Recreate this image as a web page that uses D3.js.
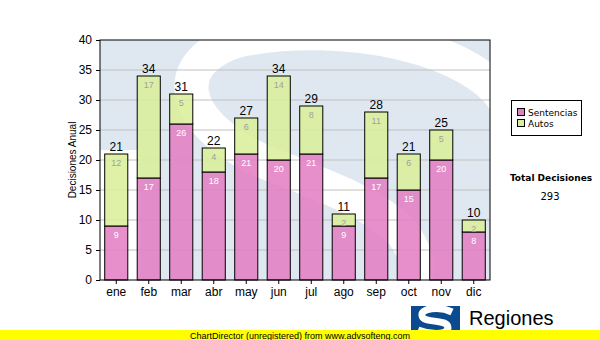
<!DOCTYPE html>
<html><head><meta charset="utf-8">
<script src="https://cdn.jsdelivr.net/npm/d3@7"></script>
<style>body{margin:0;background:#fff}svg{display:block;font-family:"Liberation Sans",Arial,sans-serif}</style>
</head><body>
<svg id="c" width="600" height="340"></svg>
<script>
const months = ["ene","feb","mar","abr","may","jun","jul","ago","sep","oct","nov","dic"];
const sentencias = [9,17,26,18,21,20,21,9,17,15,20,8];
const autos = [12,17,5,4,6,14,8,2,11,6,5,2];
const yTicks = [0,5,10,15,20,25,30,35,40];
const seriesNames = ["Sentencias","Autos"];
const totalLabel = "Total Decisiones";

const svg = d3.select("#c");
const L=100,R=490,T=40,B=280;
const x = d3.scaleBand().domain(months).range([L,R]).paddingInner(0.29).paddingOuter(0.145);
const y = d3.scaleLinear().domain([0,40]).range([B,T]);
const pink="#e27fc3", green="#daef9a";

// watermark background
const wm = svg.append("g");
wm.append("rect").attr("x",L).attr("y",T).attr("width",R-L).attr("height",B-T).attr("fill","#fff");
wm.append("rect").attr("x",L+40).attr("y",T).attr("width",R-L-40).attr("height",B-T).attr("fill","#dfe8f1");
wm.append("rect").attr("x",L).attr("y",T).attr("width",40).attr("height",110).attr("fill","#dfe8f1");
wm.append("path").attr("d","M 510,110 C 480,45 340,20 240,40 C 170,60 175,120 260,160 C 360,200 440,225 410,300")
  .attr("fill","none").attr("stroke","#fff").attr("stroke-width",34);
svg.append("clipPath").attr("id","pc").append("rect").attr("x",L).attr("y",T).attr("width",R-L).attr("height",B-T);
wm.attr("clip-path","url(#pc)");

// grid
svg.append("g").selectAll("line").data(yTicks.filter(d=>d>0&&d<40)).join("line")
  .attr("x1",L).attr("x2",R).attr("y1",d=>y(d)).attr("y2",d=>y(d)).attr("stroke","#c0c0c0");

// bars
const data = months.map((m,i)=>({m,s:sentencias[i],a:autos[i]}));
const bars = svg.append("g");
bars.selectAll(".s").data(data).join("rect").attr("x",d=>x(d.m)).attr("width",x.bandwidth())
  .attr("y",d=>y(d.s)).attr("height",d=>y(0)-y(d.s)).attr("fill",pink).attr("fill-opacity",0.88).attr("stroke","#000");
bars.selectAll(".a").data(data).join("rect").attr("x",d=>x(d.m)).attr("width",x.bandwidth())
  .attr("y",d=>y(d.s+d.a)).attr("height",d=>y(d.s)-y(d.s+d.a)).attr("fill",green).attr("fill-opacity",0.88).attr("stroke","#000");

// labels
const lab = svg.append("g").attr("text-anchor","middle");
lab.selectAll(".ls").data(data).join("text").attr("x",d=>x(d.m)+x.bandwidth()/2).attr("y",d=>y(d.s)+12)
  .attr("font-size",9).attr("fill","#fff").text(d=>d.s);
lab.selectAll(".la").data(data).join("text").attr("x",d=>x(d.m)+x.bandwidth()/2).attr("y",d=>y(d.s+d.a)+12)
  .attr("font-size",9).attr("fill","#a0a0a0").text(d=>d.a);
lab.selectAll(".lt").data(data).join("text").attr("x",d=>x(d.m)+x.bandwidth()/2).attr("y",d=>y(d.s+d.a)-3)
  .attr("font-size",12).attr("fill","#000").text(d=>d.s+d.a);

// frame
svg.append("rect").attr("x",L).attr("y",T).attr("width",R-L).attr("height",B-T).attr("fill","none").attr("stroke","#000");

// axes
const ya = svg.append("g").attr("transform",`translate(${L},0)`).call(d3.axisLeft(y).tickValues(yTicks).tickSize(4).tickSizeOuter(0));
ya.select(".domain").remove();
ya.selectAll("text").attr("font-size",12).attr("font-family","Liberation Sans, Arial").attr("fill","#000").attr("dx","-1");
const xa = svg.append("g").attr("transform",`translate(0,${B})`).call(d3.axisBottom(x).tickSize(4).tickSizeOuter(0));
xa.select(".domain").remove();
xa.selectAll("text").attr("font-size",12).attr("font-family","Liberation Sans, Arial").attr("fill","#000").attr("dy","0.75em");

svg.append("text").attr("transform","translate(76,160) rotate(-90)").attr("text-anchor","middle")
  .attr("font-size",10).text("Decisiones Anual");

// legend
const lg = svg.append("g");
lg.append("rect").attr("x",511.5).attr("y",100.5).attr("width",70).attr("height",35).attr("fill","#fff").attr("stroke","#000");
[pink,green].forEach((c,i)=>{
  lg.append("rect").attr("x",517.5).attr("y",108.5+i*11).attr("width",7).attr("height",7).attr("fill",c).attr("stroke","#000");
  lg.append("text").attr("x",528).attr("y",116+i*11).attr("font-size",9).attr("font-family","DejaVu Sans, Verdana").attr("fill","#000").text(seriesNames[i]);
});
const total = d3.sum(sentencias)+d3.sum(autos);
svg.append("text").attr("x",551).attr("y",181).attr("text-anchor","middle").attr("font-size",9).attr("font-weight","bold").attr("font-family","DejaVu Sans, Verdana").text(totalLabel);
svg.append("text").attr("x",550).attr("y",200).attr("text-anchor","middle").attr("font-size",10).attr("font-family","DejaVu Sans, Verdana").text(total);

// logo
const lgo = svg.append("g");
lgo.append("rect").attr("x",411).attr("y",306).attr("width",49).attr("height",30).attr("fill","#0b4a8f");
lgo.append("path").attr("d","M 452,312 C 440,306 420,308 422,316 C 424,324 448,318 448,328 C 447,336 428,334 418,330")
  .attr("fill","none").attr("stroke","#fff").attr("stroke-width",7);
lgo.append("text").attr("x",469).attr("y",325).attr("font-size",20).attr("font-family","Liberation Sans, Arial").text("Regiones");
lgo.append("text").attr("x",467).attr("y",337).attr("font-size",9).attr("font-family","Liberation Sans, Arial").text("Tribunal Superior de Justicia");

// unregistered bar
svg.append("rect").attr("x",0).attr("y",330).attr("width",600).attr("height",10).attr("fill","#ffff00");
svg.append("text").attr("x",190).attr("y",338.5).attr("font-size",9).attr("font-family","Liberation Sans, Arial").text("ChartDirector (unregistered) from www.advsofteng.com");
</script>
</body></html>
